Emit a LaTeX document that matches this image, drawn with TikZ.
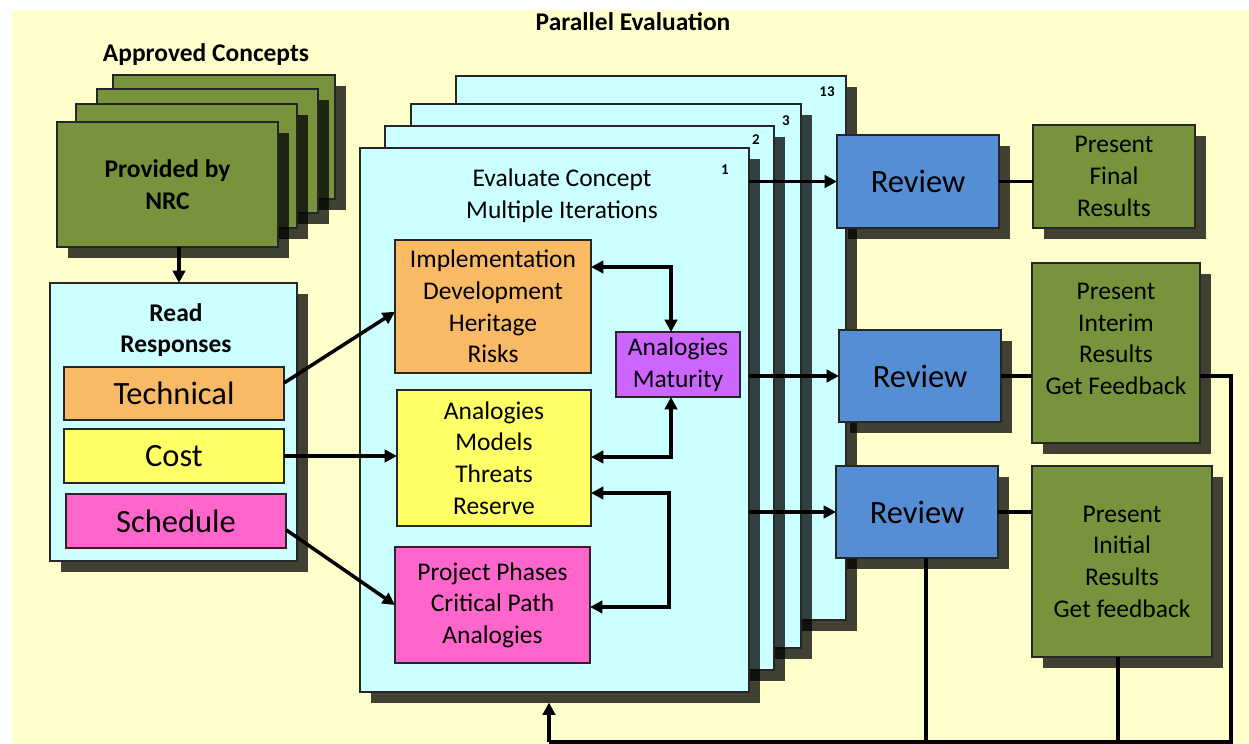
\documentclass[tikz,border=0pt]{standalone}
\usepackage{fontspec}
\setmainfont{Carlito}
\usetikzlibrary{arrows.meta,shadows,calc}
\definecolor{bgc}{HTML}{FFFFCC}
\definecolor{grn}{HTML}{77933C}
\definecolor{cyn}{HTML}{CCFFFF}
\definecolor{org}{HTML}{F9BA66}
\definecolor{ylw}{HTML}{FFFF66}
\definecolor{pnk}{HTML}{FF66CC}
\definecolor{prp}{HTML}{CC66FF}
\definecolor{blu}{HTML}{558ED5}
\newcommand\txtA{\fontsize{14.5}{18}\selectfont}
\newcommand\txtB{\fontsize{18.5}{22}\selectfont}
\newcommand\txtC{\fontsize{8.5}{10}\selectfont}
\newcommand\mkbox[7][]{%
  \node[box,#1,anchor=north west,minimum width={(#5-#3)*0.02cm},minimum height={(#6-#4)*0.02cm}] (#2) at (#3,#4) {#7};}
\tikzset{
  box/.style={draw=black!85, line width=0.8pt, inner sep=0pt, outer sep=0pt, align=center, font=\txtA, text=black},
  shad/.style={drop shadow={shadow xshift=0.22cm, shadow yshift=-0.22cm, fill opacity=0.75, draw=none, fill=black}},
  conn/.style={line width=2pt, draw=black},
  arr/.style={conn, -{Triangle[length=7pt,width=7pt]}},
  darr/.style={conn, {Triangle[length=7pt,width=7pt]}-{Triangle[length=7pt,width=7pt]}},
  num/.style={font=\bfseries\txtC, inner sep=0pt},
  ttl/.style={font=\bfseries\txtA, align=center, inner sep=0pt},
}
\begin{document}
\begin{tikzpicture}[x=0.02cm,y=-0.02cm]
\useasboundingbox (0,0) rectangle (1249,744);
\fill[white] (0,0) rectangle (1249,744);
\fill[bgc] (12,10) rectangle (1249,744);

% titles
\node[ttl] (tAC) at (206,55) {Approved Concepts};
\node[ttl] (tPE) at (633,22) {Parallel Evaluation};

% approved concepts stack
\mkbox[fill=grn,shad]{g4}{113}{75}{335}{199}{}
\mkbox[fill=grn,shad]{g3}{97}{89}{318}{213}{}
\mkbox[fill=grn,shad]{g2}{76}{104}{297}{228}{}
\mkbox[fill=grn,shad,font=\bfseries\txtA]{prov}{57}{122}{278}{247}{Provided by\\NRC}

% read responses
\mkbox[fill=cyn,shad]{read}{50}{283}{297}{561}{}
\node[ttl] (readT) at (176,330) {Read\\Responses};
\mkbox[fill=org,font=\txtB]{tech}{64}{367}{284}{420}{Technical}
\mkbox[fill=ylw,font=\txtB]{cost}{64}{429}{284}{483}{Cost}
\mkbox[fill=pnk,font=\txtB]{sched}{66}{494}{286}{548}{Schedule}

% evaluation stack
\mkbox[fill=cyn,shad]{c13}{456}{76}{846}{620}{}
\node[num] (n13) at (827,92) {13};
\mkbox[fill=cyn,shad]{c3}{411}{104}{801}{648}{}
\node[num] (n3) at (786,121) {3};
\mkbox[fill=cyn,shad]{c2}{385}{126}{774}{670}{}
\node[num] (n2) at (756,140) {2};
\mkbox[fill=cyn,shad]{c1}{360}{148}{749}{692}{}
\node[num] (n1) at (725,170) {1};
\node[font=\txtA, align=center, inner sep=0pt] (evT) at (562,196) {Evaluate Concept\\Multiple Iterations};

\mkbox[fill=org]{impl}{395}{240}{591}{373}{Implementation\\Development\\Heritage\\Risks}
\mkbox[fill=prp]{anmat}{616}{332}{740}{397}{Analogies\\Maturity}
\mkbox[fill=ylw]{ammr}{397}{390}{591}{526}{Analogies\\Models\\Threats\\Reserve}
\mkbox[fill=pnk]{proj}{395}{547}{590}{663}{Project Phases\\Critical Path\\Analogies}

% reviews and presentations
\mkbox[fill=blu,shad,font=\txtB]{r1}{837}{135}{999}{228}{Review}
\mkbox[fill=grn,shad]{pf}{1033}{125}{1195}{228}{Present\\Final\\Results}
\mkbox[fill=blu,shad,font=\txtB]{r2}{839}{330}{1001}{422}{Review}
\mkbox[fill=grn,shad]{pi}{1032}{263}{1200}{443}{}
\node[font=\txtA, align=center, inner sep=0pt] (piT) at (1116,339) {Present\\Interim\\Results\\Get Feedback};
\mkbox[fill=blu,shad,font=\txtB]{r3}{836}{466}{998}{558}{Review}
\mkbox[fill=grn,shad]{pn}{1032}{466}{1212}{657}{Present\\Initial\\Results\\Get feedback}

% connectors
\coordinate (ax) at (179,0);
\draw[arr] (prov.south -| ax) -- (read.north -| ax);
\draw[arr] ([yshift=6pt]tech.east) -- ([yshift=-3pt]impl.west);
\draw[arr] (cost.east) -- (cost.east -| ammr.west);
\draw[arr] ([yshift=-5pt]sched.east) -- (proj.west);

\coordinate (j1) at (671,267);
\coordinate (j2) at (671,457);
\coordinate (j3) at (669,493);
\coordinate (j4) at (669,607);
\draw[darr] (impl.east |- j1) -- (j1) -- (j1 |- anmat.north);
\draw[darr] (ammr.east |- j2) -- (j2) -- (j2 |- anmat.south);
\draw[darr] (ammr.east |- j3) -- (j3) -- (j4) -- (proj.east |- j4);

\draw[arr] (r1.west -| c1.east) -- (r1.west);
\draw[arr] (r2.west -| c1.east) -- (r2.west);
\draw[arr] (r3.west -| c1.east) -- (r3.west);

\draw[conn] (r1.east) -- (r1.east -| pf.west);
\draw[conn] (r2.east) -- (r2.east -| pi.west);
\draw[conn] (r3.east) -- (r3.east -| pn.west);

\coordinate (fb0) at (549,742);
\coordinate (fb1) at (1231,376);
\coordinate (fb2) at (926,742);
\coordinate (fb3) at (1118,742);
\coordinate (c1s) at ([yshift=-6pt]c1.south);
\draw[conn] (r2.east -| pi.east) -- (fb1) -- (fb1 |- fb0) -- (fb0);
\draw[conn] (fb2 |- r3.south) -- (fb2);
\draw[conn] (fb3 |- pn.south) -- (fb3);
\draw[arr] (fb0) -- (fb0 |- c1s);
\end{tikzpicture}
\end{document}
